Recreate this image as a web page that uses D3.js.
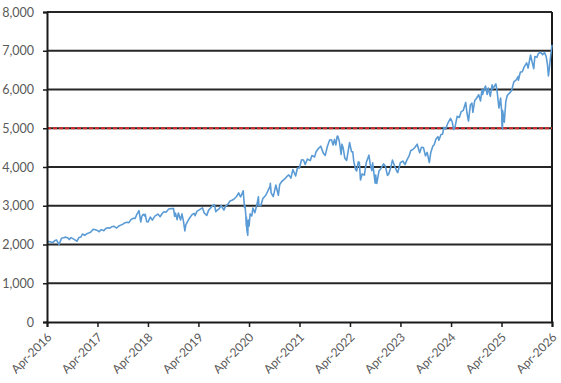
<!DOCTYPE html>
<html><head><meta charset="utf-8">
<script src="https://cdn.jsdelivr.net/npm/d3@7"></script>
<style>
body{margin:0;background:#fff;}
svg{display:block;}
text{font-family:Lato,"Open Sans",sans-serif;}
</style></head>
<body><svg id="c" width="561" height="383"></svg>
<script>
const dates = [
"2016-04-01","2016-04-15","2016-04-29","2016-05-13","2016-05-27","2016-06-08","2016-06-27","2016-07-15","2016-07-29","2016-08-15","2016-08-31","2016-09-09","2016-09-22","2016-10-14","2016-11-04","2016-11-18","2016-12-02","2016-12-13","2016-12-30",
"2017-01-13","2017-01-27","2017-02-10","2017-03-01","2017-03-17","2017-03-31","2017-04-13","2017-04-28","2017-05-17","2017-05-31","2017-06-16","2017-06-30","2017-07-14","2017-07-31","2017-08-10","2017-08-18","2017-08-31","2017-09-15","2017-09-29","2017-10-13","2017-10-31","2017-11-15","2017-11-30","2017-12-15","2017-12-29",
"2018-01-12","2018-01-26","2018-02-08","2018-02-16","2018-02-26","2018-03-08","2018-03-12","2018-03-23","2018-04-02","2018-04-18","2018-05-03","2018-05-21","2018-06-12","2018-06-28","2018-07-13","2018-07-25","2018-08-10","2018-08-29","2018-09-20","2018-10-03","2018-10-11","2018-10-17","2018-10-29","2018-11-07","2018-11-23","2018-12-03","2018-12-14","2018-12-24","2018-12-31",
"2019-01-15","2019-01-31","2019-02-15","2019-03-01","2019-03-08","2019-03-21","2019-04-12","2019-04-30","2019-05-13","2019-05-31","2019-06-14","2019-06-28","2019-07-15","2019-07-26","2019-08-05","2019-08-16","2019-08-30","2019-09-13","2019-10-02","2019-10-15","2019-10-31","2019-11-15","2019-11-29","2019-12-13","2019-12-31",
"2020-01-17","2020-01-31","2020-02-19","2020-02-28","2020-03-03","2020-03-09","2020-03-12","2020-03-13","2020-03-16","2020-03-23","2020-03-26","2020-04-01","2020-04-09","2020-04-21","2020-04-29","2020-05-13","2020-05-29","2020-06-08","2020-06-11","2020-06-26","2020-07-10","2020-07-31","2020-08-14","2020-08-31","2020-09-02","2020-09-08","2020-09-23","2020-10-12","2020-10-30","2020-11-09","2020-11-25","2020-12-15","2020-12-31",
"2021-01-14","2021-01-29","2021-02-12","2021-03-04","2021-03-17","2021-03-31","2021-04-16","2021-04-30","2021-05-12","2021-05-28","2021-06-18","2021-06-30","2021-07-19","2021-07-30","2021-08-16","2021-08-31","2021-09-02","2021-09-20","2021-10-04","2021-10-20","2021-11-05","2021-11-18","2021-11-30","2021-12-10","2021-12-20","2021-12-29",
"2022-01-03","2022-01-14","2022-01-27","2022-02-02","2022-02-10","2022-02-23","2022-03-08","2022-03-29","2022-04-12","2022-04-21","2022-04-29","2022-05-12","2022-05-20","2022-05-31","2022-06-08","2022-06-16","2022-06-28","2022-07-14","2022-07-29","2022-08-16","2022-08-26","2022-09-06","2022-09-12","2022-09-30","2022-10-04","2022-10-12","2022-10-28","2022-11-10","2022-11-30","2022-12-13","2022-12-28",
"2023-01-05","2023-01-20","2023-02-02","2023-02-24","2023-03-10","2023-03-13","2023-03-31","2023-04-18","2023-05-04","2023-05-19","2023-06-02","2023-06-15","2023-06-30","2023-07-14","2023-07-31","2023-08-18","2023-08-31","2023-09-14","2023-09-29","2023-10-11","2023-10-27","2023-11-06","2023-11-21","2023-11-30","2023-12-14","2023-12-28",
"2024-01-04","2024-01-19","2024-01-31","2024-02-09","2024-02-21","2024-03-08","2024-03-28","2024-04-10","2024-04-19","2024-04-30","2024-05-15","2024-05-31","2024-06-12","2024-06-28","2024-07-16","2024-07-25","2024-08-05","2024-08-19","2024-08-30","2024-09-06","2024-09-19","2024-09-30","2024-10-18","2024-10-31","2024-11-11","2024-11-15","2024-11-29","2024-12-06","2024-12-18","2024-12-26",
"2025-01-10","2025-01-23","2025-01-27","2025-02-19","2025-02-28","2025-03-13","2025-03-25","2025-04-03","2025-04-04","2025-04-08","2025-04-09","2025-04-21","2025-05-02","2025-05-12","2025-05-30","2025-06-13","2025-06-30","2025-07-15","2025-07-31","2025-08-01","2025-08-15","2025-08-29","2025-09-12","2025-09-30","2025-10-10","2025-10-28","2025-11-07","2025-11-20","2025-11-28","2025-12-12","2025-12-24",
"2026-01-09","2026-01-23","2026-02-06","2026-02-18","2026-02-27","2026-03-06","2026-03-13","2026-03-20","2026-03-27","2026-04-01"
];
const values = [
2070,2080,2065,2047,2099,2119,2000,2162,2173,2190,2170,2127,2177,2133,2085,2182,2192,2271,2239,
2275,2294,2316,2395,2378,2362,2328,2384,2357,2411,2433,2423,2459,2470,2438,2425,2471,2500,2519,2553,2575,2564,2647,2675,2673,
2786,2872,2581,2732,2779,2738,2783,2588,2581,2708,2629,2733,2786,2716,2801,2846,2833,2914,2930,2925,2728,2809,2641,2814,2633,2790,2599,2351,2507,
2610,2704,2775,2803,2743,2855,2907,2946,2812,2752,2887,2942,3014,3026,2845,2889,2926,3007,2888,2996,3038,3120,3141,3169,3231,
3330,3226,3386,2954,3003,2747,2481,2711,2386,2237,2630,2471,2790,2737,2939,2820,3044,3232,3002,3009,3185,3271,3372,3500,3580,3332,3237,3534,3270,3550,3630,3694,3756,
3796,3714,3934,3768,3974,3973,4185,4181,4063,4204,4166,4298,4258,4395,4479,4523,4537,4358,4300,4536,4697,4704,4567,4712,4568,4793,
4796,4663,4326,4589,4504,4225,4170,4632,4397,4393,4132,3930,3901,4132,4115,3666,3821,3790,4130,4305,4058,3908,4110,3585,3791,3577,3901,3956,4080,4019,3783,
3808,3972,4179,3970,3861,3855,4109,4154,4061,4191,4282,4426,4450,4505,4589,4370,4508,4505,4288,4376,4117,4366,4538,4568,4720,4783,
4688,4840,4846,5027,4976,5124,5254,5161,4967,5036,5308,5278,5421,5460,5667,5400,5186,5608,5648,5408,5713,5762,5864,5705,6001,5870,6032,6090,5872,6037,
5827,6119,6012,6144,5955,5522,5777,5396,5074,4982,5457,5158,5687,5844,5912,5977,6205,6244,6339,6238,6449,6460,6584,6688,6553,6890,6728,6538,6849,6830,6930,
6960,6900,6950,6850,6650,6350,6550,6800,7000,7150
];
const yTicks = [0,1000,2000,3000,4000,5000,6000,7000,8000];
const xTickLabels = ["Apr-2016","Apr-2017","Apr-2018","Apr-2019","Apr-2020","Apr-2021","Apr-2022","Apr-2023","Apr-2024","Apr-2025","Apr-2026"];
const refValue = 5000;

const parse = d3.timeParse("%Y-%m-%d");
const data = dates.map((d,i)=>({date:parse(d), value:values[i]}));
const fmtIn = d3.timeParse("%b-%Y");
const xTickDates = xTickLabels.map(s=>fmtIn(s));

const L=47, R=552, T=12, B=322;
const svg = d3.select("#c");
const x = d3.scaleTime().domain([xTickDates[0], xTickDates[xTickDates.length-1]]).range([L,R]);
const y = d3.scaleLinear().domain([0,8000]).range([B,T]);

// gridlines
svg.append("g").selectAll("line").data(yTicks.filter(v=>v>0)).join("line")
  .attr("x1",L).attr("x2",R).attr("y1",d=>y(d)).attr("y2",d=>y(d))
  .attr("stroke","#262626").attr("stroke-width",2);

// right border
svg.append("line").attr("x1",R).attr("x2",R).attr("y1",T).attr("y2",B)
  .attr("stroke","#1a1a1a").attr("stroke-width",2);

// red reference line
svg.append("line").attr("x1",L).attr("x2",R).attr("y1",y(refValue)).attr("y2",y(refValue))
  .attr("stroke","#d42a2a").attr("stroke-width",2).attr("stroke-dasharray","4,2");

// series line
svg.append("path").datum(data)
  .attr("fill","none").attr("stroke","#5b9bd5").attr("stroke-width",1.6)
  .attr("stroke-linejoin","round")
  .attr("d", d3.line().x(d=>x(d.date)).y(d=>y(d.value)));

// y axis
const yAxis = svg.append("g").attr("transform",`translate(${L},0)`)
  .call(d3.axisLeft(y).tickValues(yTicks).tickFormat(d3.format(",")).tickSize(4).tickPadding(9));
yAxis.select(".domain").attr("stroke","#1a1a1a").attr("stroke-width",2);
yAxis.selectAll(".tick line").attr("stroke","#1a1a1a").attr("stroke-width",1.5);
yAxis.selectAll("text").attr("fill","#595959").style("font-size","12.5px");

// x axis
const xAxis = svg.append("g").attr("transform",`translate(0,${B})`)
  .call(d3.axisBottom(x).tickValues(xTickDates).tickFormat((d,i)=>xTickLabels[i]).tickSize(5));
xAxis.select(".domain").attr("stroke","#1a1a1a").attr("stroke-width",2);
xAxis.selectAll(".tick line").attr("stroke","#1a1a1a").attr("stroke-width",1.5);
xAxis.selectAll("text").attr("fill","#595959").style("font-size","12px")
  .attr("text-anchor","end").attr("x",0).attr("y",0).attr("dy","0.35em")
  .attr("transform","translate(2,13) rotate(-45)");
</script></body></html>
